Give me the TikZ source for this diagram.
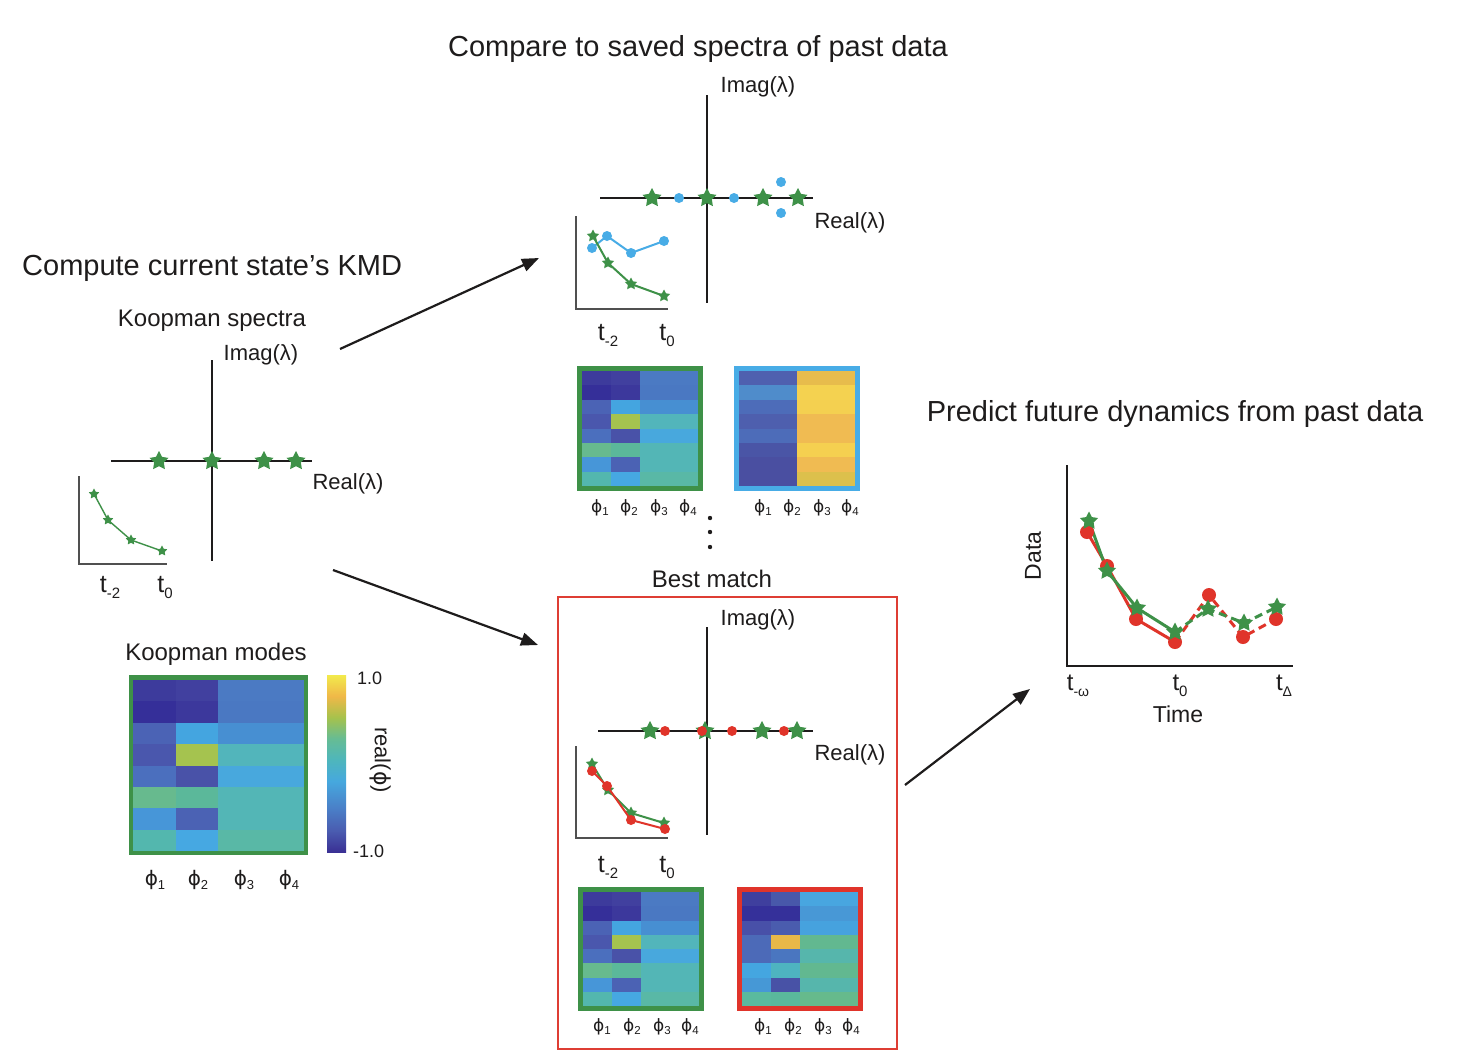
\documentclass[tikz,border=0pt]{standalone}
\usepackage{fontspec}
\setmainfont{Liberation Sans}
\newfontfamily\dvs{DejaVu Sans}
\usetikzlibrary{shapes.geometric,arrows.meta}

\definecolor{kgreen}{RGB}{62,145,72}
\definecolor{kblue}{RGB}{72,172,230}
\definecolor{kred}{RGB}{224,52,42}
\definecolor{boxred}{RGB}{222,62,52}
\definecolor{kblack}{RGB}{30,28,28}
\definecolor{inaxc}{RGB}{80,80,80}

% pattern A (current state)
\definecolor{A0-1}{HTML}{3D3B9C}\definecolor{A0-2}{HTML}{41409F}\definecolor{A0-3}{HTML}{4B7AC3}
\definecolor{A1-1}{HTML}{352F99}\definecolor{A1-2}{HTML}{3C389C}\definecolor{A1-3}{HTML}{4A78C2}
\definecolor{A2-1}{HTML}{4B63B5}\definecolor{A2-2}{HTML}{44A5E0}\definecolor{A2-3}{HTML}{478FD2}
\definecolor{A3-1}{HTML}{4A57AD}\definecolor{A3-2}{HTML}{A5C34F}\definecolor{A3-3}{HTML}{52B5BB}
\definecolor{A4-1}{HTML}{4B6FBE}\definecolor{A4-2}{HTML}{4952A8}\definecolor{A4-3}{HTML}{48A8DD}
\definecolor{A5-1}{HTML}{67BA8E}\definecolor{A5-2}{HTML}{5BB89A}\definecolor{A5-3}{HTML}{53B6B6}
\definecolor{A6-1}{HTML}{4796D8}\definecolor{A6-2}{HTML}{4B62B4}\definecolor{A6-3}{HTML}{53B6B6}
\definecolor{A7-1}{HTML}{53B7AE}\definecolor{A7-2}{HTML}{46A8E2}\definecolor{A7-3}{HTML}{59B8A6}
% pattern B (blue)
\definecolor{B0-1}{HTML}{4F60AF}\definecolor{B0-2}{HTML}{4F60AF}\definecolor{B0-3}{HTML}{E7BC4C}
\definecolor{B1-1}{HTML}{4F8CCB}\definecolor{B1-2}{HTML}{4F8CCB}\definecolor{B1-3}{HTML}{F4D250}
\definecolor{B2-1}{HTML}{4D6CB9}\definecolor{B2-2}{HTML}{4D6CB9}\definecolor{B2-3}{HTML}{F4D050}
\definecolor{B3-1}{HTML}{4E5FAE}\definecolor{B3-2}{HTML}{4E5FAE}\definecolor{B3-3}{HTML}{F0BB52}
\definecolor{B4-1}{HTML}{4D6CB9}\definecolor{B4-2}{HTML}{4D6CB9}\definecolor{B4-3}{HTML}{F0BB52}
\definecolor{B5-1}{HTML}{4A55A6}\definecolor{B5-2}{HTML}{4A55A6}\definecolor{B5-3}{HTML}{F5D050}
\definecolor{B6-1}{HTML}{4A4FA1}\definecolor{B6-2}{HTML}{4A4FA1}\definecolor{B6-3}{HTML}{F0BB52}
\definecolor{B7-1}{HTML}{4A4FA1}\definecolor{B7-2}{HTML}{4A4FA1}\definecolor{B7-3}{HTML}{DCC04C}
% pattern C (red)
\definecolor{C0-1}{HTML}{3F3F9E}\definecolor{C0-2}{HTML}{4858AA}\definecolor{C0-3}{HTML}{48A6E0}
\definecolor{C1-1}{HTML}{35309A}\definecolor{C1-2}{HTML}{35309A}\definecolor{C1-3}{HTML}{4898D6}
\definecolor{C2-1}{HTML}{4850A8}\definecolor{C2-2}{HTML}{4A5CAE}\definecolor{C2-3}{HTML}{46A2DE}
\definecolor{C3-1}{HTML}{4C6AB8}\definecolor{C3-2}{HTML}{E8B848}\definecolor{C3-3}{HTML}{62B890}
\definecolor{C4-1}{HTML}{4C6AB8}\definecolor{C4-2}{HTML}{4A76C0}\definecolor{C4-3}{HTML}{56B6AC}
\definecolor{C5-1}{HTML}{44A6E0}\definecolor{C5-2}{HTML}{4EB4C0}\definecolor{C5-3}{HTML}{62B890}
\definecolor{C6-1}{HTML}{4698D6}\definecolor{C6-2}{HTML}{4852A6}\definecolor{C6-3}{HTML}{56B6AC}
\definecolor{C7-1}{HTML}{5ABA9E}\definecolor{C7-2}{HTML}{5AB89C}\definecolor{C7-3}{HTML}{66BA8C}

\definecolor{pa0}{HTML}{3A3094}
\definecolor{pa1}{HTML}{4A5CB0}
\definecolor{pa2}{HTML}{4A80C8}
\definecolor{pa3}{HTML}{46A8DE}
\definecolor{pa4}{HTML}{4EB6BC}
\definecolor{pa5}{HTML}{66BC94}
\definecolor{pa6}{HTML}{A6C24C}
\definecolor{pa7}{HTML}{F0B848}
\definecolor{pa8}{HTML}{F2EA4C}
% the path is mapped onto 25bp..75bp of the shading
\pgfdeclareverticalshading{parulabar}{100bp}{%
  color(0bp)=(pa0); color(25bp)=(pa0); color(31bp)=(pa1); color(37.5bp)=(pa2);
  color(45bp)=(pa3); color(51bp)=(pa4); color(57bp)=(pa5);
  color(63bp)=(pa6); color(69bp)=(pa7); color(75bp)=(pa8); color(100bp)=(pa8)}

% heatmap: #1 x0, #2 x1, #3 x2, #4 x3, #5 y0, #6 row height, #7 prefix
\newcommand{\hmap}[7]{%
  \foreach \r in {0,...,7}{%
    \fill[#7\r-1] (#1,{#5+\r*#6}) rectangle (#2,{#5+(\r+1)*#6+0.3});
    \fill[#7\r-2] (#2,{#5+\r*#6}) rectangle (#3,{#5+(\r+1)*#6+0.3});
    \fill[#7\r-3] (#3,{#5+\r*#6}) rectangle (#4,{#5+(\r+1)*#6+0.3});
  }}
\newcommand{\tsub}[1]{t\raisebox{-6pt}{\fontsize{15}{15}\selectfont #1}}
\newcommand{\phl}[1]{{\dvs ϕ}\raisebox{-4pt}{\fontsize{13}{13}\selectfont #1}}
\newcommand{\phs}[1]{{\dvs ϕ}\raisebox{-3.5pt}{\fontsize{11.5}{11.5}\selectfont #1}}

\begin{document}
\begin{tikzpicture}[x=1pt,y=-1pt,
  every node/.style={inner sep=0pt, text=kblack},
  title/.style={font=\fontsize{29}{34}\selectfont, anchor=base},
  subtitle/.style={font=\fontsize{24}{28}\selectfont, anchor=base},
  axlab/.style={font=\fontsize{22}{26}\selectfont, anchor=base},
  tlab/.style={font=\fontsize{25}{28}\selectfont, anchor=base},
  plab/.style={font=\fontsize{20}{24}\selectfont, anchor=base},
  pslab/.style={font=\fontsize{17}{20}\selectfont, anchor=base},
  ax/.style={draw=kblack, line width=2.6pt},
  inax/.style={draw=inaxc, line width=1.8pt},
  gstar/.style={star, star points=5, star point ratio=1.95, fill=kgreen, inner sep=0pt},
  bigstar/.style={gstar, minimum size=20pt},
  midstar/.style={gstar, minimum size=13pt},
  smallstar/.style={gstar, minimum size=11pt},
  plotstar/.style={gstar, minimum size=19pt},
  bdot/.style={circle, fill=kblue, minimum size=10pt, inner sep=0pt},
  rdot/.style={circle, fill=kred, minimum size=10pt, inner sep=0pt},
  bigrdot/.style={circle, fill=kred, minimum size=14pt, inner sep=0pt},
  arr/.style={draw=kblack, line width=2.2pt, -{Triangle[length=17pt,width=13pt]}},
  gline/.style={draw=kgreen, line width=1.4pt},
  gline2/.style={draw=kgreen, line width=2pt},
  bline/.style={draw=kblue, line width=2pt},
  rline/.style={draw=kred, line width=2pt},
  gline3/.style={draw=kgreen, line width=3pt},
  rline3/.style={draw=kred, line width=3pt},
  dash3/.style={dash pattern=on 8pt off 5pt}
]
\useasboundingbox (0,0) rectangle (1465,1061);
\fill[white] (0,0) rectangle (1465,1061);

%================ LEFT =================
\node[title, anchor=base west] (lt) at (22,275) {Compute current state’s KMD};
\node[subtitle] (ks) at (212,326) {Koopman spectra};
\node[axlab] (limag) at (261,360) {Imag(λ)};
\node[axlab] (lreal) at (348,489) {Real(λ)};
\coordinate (lv1) at (212,360); \coordinate (lv2) at (212,561);
\coordinate (lh1) at (111,461); \coordinate (lh2) at (312,461);
\draw[ax] (lv1) -- (lv2);
\draw[ax] (lh1) -- (lh2);
\foreach \x [count=\i] in {159,212,264,296}{\node[bigstar] (lst\i) at (\x,461) {};}
% inset
\coordinate (liy) at (79,476); \coordinate (lio) at (79,564); \coordinate (lix) at (167,564);
\draw[inax] (liy) -- (lio) -- (lix);
\coordinate (lp1) at (94,494); \coordinate (lp2) at (108,520);
\coordinate (lp3) at (131,540); \coordinate (lp4) at (162,551);
\draw[gline] (lp1) -- (lp2) -- (lp3) -- (lp4);
\foreach \i in {1,...,4}{\node[smallstar] (lsm\i) at (lp\i) {};}
\node[tlab] (lt2) at (110,592) {\tsub{-2}};
\node[tlab] (lt0) at (165,592) {\tsub{0}};
% modes
\node[subtitle] (km) at (216,660) {Koopman modes};
\fill[kgreen] (129,675) rectangle (308,855);
\hmap{133}{176}{218}{304}{680}{21.375}{A}
\node[plab] (lp1l) at (155,885) {\phl{1}};
\node[plab] (lp2l) at (198,885) {\phl{2}};
\node[plab] (lp3l) at (244,885) {\phl{3}};
\node[plab] (lp4l) at (289,885) {\phl{4}};
% colorbar
\shade[shading=parulabar] (327,675) rectangle (346,852);
\node[font=\fontsize{18}{20}\selectfont, anchor=base west] (cb1) at (357,684) {1.0};
\node[font=\fontsize{18}{20}\selectfont, anchor=base west] (cb2) at (353,857) {-1.0};
\node[font=\fontsize{22}{26}\selectfont, rotate=-90] (cbl) at (381,760) {real({\dvs ϕ})};

%================ ARROWS =================
\coordinate (a1s) at (340,349); \coordinate (a1e) at (539,258);
\coordinate (a2s) at (333,570); \coordinate (a2e) at (538,645);
\coordinate (a3s) at (905,785); \coordinate (a3e) at (1030,689);
\draw[arr] (a1s) -- (a1e);
\draw[arr] (a2s) -- (a2e);
\draw[arr] (a3s) -- (a3e);

%================ MIDDLE TOP =================
\node[title] (mt) at (698,56) {Compare to saved spectra of past data};
\node[axlab] (mimag) at (758,92) {Imag(λ)};
\node[axlab] (mreal) at (850,228) {Real(λ)};
\coordinate (mv1) at (707,95); \coordinate (mv2) at (707,303);
\coordinate (mh1) at (600,198); \coordinate (mh2) at (813,198);
\draw[ax] (mv1) -- (mv2);
\draw[ax] (mh1) -- (mh2);
\node[bdot] (mb1) at (679,198) {};
\node[bdot] (mb2) at (734,198) {};
\node[bdot] (mb3) at (781,182) {};
\node[bdot] (mb4) at (781,213) {};
\foreach \x [count=\i] in {652,707,763,798}{\node[bigstar] (mst\i) at (\x,198) {};}
% inset
\coordinate (miy) at (576,216); \coordinate (mio) at (576,309); \coordinate (mix) at (668,309);
\draw[inax] (miy) -- (mio) -- (mix);
\coordinate (mq1) at (592,248); \coordinate (mq2) at (607,236);
\coordinate (mq3) at (631,253); \coordinate (mq4) at (664,241);
\draw[bline] (mq1) -- (mq2) -- (mq3) -- (mq4);
\foreach \i in {1,...,4}{\node[bdot] (mbd\i) at (mq\i) {};}
\coordinate (mp1) at (593,236); \coordinate (mp2) at (608,263);
\coordinate (mp3) at (631,284); \coordinate (mp4) at (664,296);
\draw[gline2] (mp1) -- (mp2) -- (mp3) -- (mp4);
\foreach \i in {1,...,4}{\node[midstar] (msm\i) at (mp\i) {};}
\node[tlab] (mt2) at (608,340) {\tsub{-2}};
\node[tlab] (mt0) at (667,340) {\tsub{0}};
% heatmaps
\fill[kgreen] (577,366) rectangle (703,491);
\hmap{582}{611}{640}{698}{371}{14.375}{A}
\fill[kblue] (734,366) rectangle (860,491);
\hmap{739}{768}{797}{855}{371}{14.375}{B}
\foreach \x [count=\i] in {600,629,659,688}{\node[pslab] (mpl\i) at (\x,512) {\phs{\i}};}
\foreach \x [count=\i] in {763,792,822,850}{\node[pslab] (mpr\i) at (\x,512) {\phs{\i}};}
% vertical dots
\foreach \y [count=\i] in {518,532,547}{\fill[kblack] (710,\y) circle (2.2pt);}

%================ MIDDLE BOTTOM =================
\node[subtitle] (bm) at (712,587) {Best match};
\draw[boxred, line width=2pt] (558,597) rectangle (897,1049);
\node[axlab] (bimag) at (758,625) {Imag(λ)};
\node[axlab] (breal) at (850,760) {Real(λ)};
\coordinate (bv1) at (707,627); \coordinate (bv2) at (707,835);
\coordinate (bh1) at (598,731); \coordinate (bh2) at (813,731);
\draw[ax] (bv1) -- (bv2);
\draw[ax] (bh1) -- (bh2);
\foreach \x [count=\i] in {650,705,762,797}{\node[bigstar] (bst\i) at (\x,731) {};}
\foreach \x [count=\i] in {665,702,732,784}{\node[rdot] (brd\i) at (\x,731) {};}
% inset
\coordinate (biy) at (576,746); \coordinate (bio) at (576,838); \coordinate (bix) at (668,838);
\draw[inax] (biy) -- (bio) -- (bix);
\coordinate (bp1) at (592,764); \coordinate (bp2) at (608,790);
\coordinate (bp3) at (631,813); \coordinate (bp4) at (664,823);
\draw[gline2] (bp1) -- (bp2) -- (bp3) -- (bp4);
\foreach \i in {1,...,4}{\node[midstar] (bsm\i) at (bp\i) {};}
\coordinate (bq1) at (592,771); \coordinate (bq2) at (607,786);
\coordinate (bq3) at (631,820); \coordinate (bq4) at (665,829);
\draw[rline] (bq1) -- (bq2) -- (bq3) -- (bq4);
\foreach \i in {1,...,4}{\node[rdot] (brq\i) at (bq\i) {};}
\node[tlab] (bt2) at (608,872) {\tsub{-2}};
\node[tlab] (bt0) at (667,872) {\tsub{0}};
% heatmaps
\fill[kgreen] (578,887) rectangle (704,1011);
\hmap{583}{612}{641}{699}{892}{14.25}{A}
\fill[kred] (737,887) rectangle (863,1011);
\hmap{742}{771}{800}{858}{892}{14.25}{C}
\foreach \x [count=\i] in {602,632,662,690}{\node[pslab] (bpl\i) at (\x,1031) {\phs{\i}};}
\foreach \x [count=\i] in {763,793,823,851}{\node[pslab] (bpr\i) at (\x,1031) {\phs{\i}};}

%================ RIGHT =================
\node[title] (rt) at (1175,421) {Predict future dynamics from past data};
\coordinate (ry) at (1067,465); \coordinate (ro) at (1067,666); \coordinate (rx) at (1293,666);
\draw[ax] (ry) -- (ro) -- (rx);
\coordinate (r1) at (1087,532); \coordinate (r2) at (1107,566); \coordinate (r3) at (1136,619);
\coordinate (r4) at (1175,642); \coordinate (r5) at (1209,595); \coordinate (r6) at (1243,637);
\coordinate (r7) at (1276,619);
\coordinate (g1) at (1089,521); \coordinate (g2) at (1107,571); \coordinate (g3) at (1137,608);
\coordinate (g4) at (1175,632); \coordinate (g5) at (1208,609); \coordinate (g6) at (1244,623);
\coordinate (g7) at (1277,607);
\draw[rline3] (r1) -- (r2) -- (r3) -- (r4);
\draw[rline3, dash3] (r4) -- (r5) -- (r6) -- (r7);
\draw[gline3] (g1) -- (g2) -- (g3) -- (g4);
\draw[gline3, dash3] (g4) -- (g5) -- (g6) -- (g7);
\foreach \i in {1,...,7}{\node[bigrdot] (rd\i) at (r\i) {};}
\foreach \i in {1,...,7}{\node[plotstar] (gs\i) at (g\i) {};}
\node[font=\fontsize{23}{26}\selectfont, rotate=90] (rdata) at (1033,556) {Data};
\node[font=\fontsize{24}{28}\selectfont, anchor=base] (rtw) at (1078,690) {t\raisebox{-6pt}{\fontsize{14}{14}\selectfont -ω}};
\node[font=\fontsize{24}{28}\selectfont, anchor=base] (rt0) at (1180,690) {\tsub{0}};
\node[font=\fontsize{24}{28}\selectfont, anchor=base] (rtd) at (1284,690) {t\raisebox{-6pt}{\fontsize{14}{14}\selectfont Δ}};
\node[font=\fontsize{23}{26}\selectfont, anchor=base] (rtime) at (1178,722) {Time};
\end{tikzpicture}
\end{document}
